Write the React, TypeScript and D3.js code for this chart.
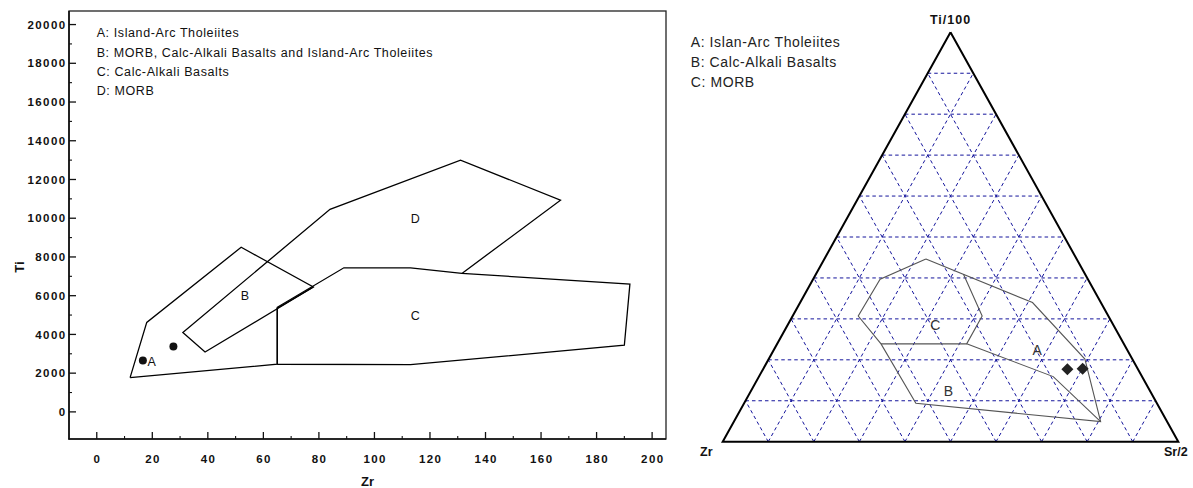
import React from "react";
import * as d3 from "d3";

// ---------- Left chart (Ti vs Zr) data ----------
const xTickValues = [0, 20, 40, 60, 80, 100, 120, 140, 160, 180, 200];
const xMinorValues = [10, 30, 50, 70, 90, 110, 130, 150, 170, 190];
const yTickValues = [0, 2000, 4000, 6000, 8000, 10000, 12000, 14000, 16000, 18000, 20000];
const yMinorValues = [1000, 3000, 5000, 7000, 9000, 11000, 13000, 15000, 17000, 19000];

const legendLeft = [
  "A: Island-Arc Tholeiites",
  "B: MORB, Calc-Alkali Basalts and Island-Arc Tholeiites",
  "C: Calc-Alkali Basalts",
  "D: MORB",
];

// [Zr, Ti]
const fieldA: [number, number][] = [
  [12, 1770], [18, 4620], [52, 8500], [78, 6450], [65, 5350], [65, 2460], [12, 1770],
];
const fieldC: [number, number][] = [
  [65, 2460], [65, 5400], [89, 7440], [113, 7440], [131.5, 7150], [192, 6600],
  [190, 3440], [113, 2440], [65, 2460],
];
const fieldBD: [number, number][] = [
  [78, 6450], [39, 3090], [31, 4100], [84, 10460], [131, 13000], [167, 10930], [131.5, 7150],
];
const labelsLeft: { t: string; x: number; y: number; anchor: string }[] = [
  { t: "A", x: 18.3, y: 2580, anchor: "start" },
  { t: "B", x: 53.4, y: 6030, anchor: "middle" },
  { t: "C", x: 114.7, y: 4960, anchor: "middle" },
  { t: "D", x: 114.7, y: 9985, anchor: "middle" },
];
const samplesLeft: [number, number][] = [
  [16.6, 2650],
  [27.6, 3370],
];

// ---------- Right chart (Ti/100 - Zr - Sr/2) data, [Ti, Zr, Sr] in % ----------
const legendRight = [
  "A: Islan-Arc Tholeiites",
  "B: Calc-Alkali Basalts",
  "C: MORB",
];
const gridSteps = [10, 20, 30, 40, 50, 60, 70, 80, 90];
const outerLine: [number, number, number][] = [
  [44.6, 33.1, 22.3], [34.0, 15.0, 51.0], [20.2, 10.4, 69.4], [4.9, 14.6, 80.5],
  [9.4, 52.9, 37.7], [23.9, 53.3, 22.8], [30.7, 54.9, 14.4], [39.7, 45.6, 14.7],
  [44.6, 33.1, 22.3],
];
const innerC: [number, number, number][] = [
  [40.9, 26.7, 32.4], [30.7, 27.7, 41.6], [23.9, 34.5, 41.6], [23.9, 53.3, 22.8],
];
const lineAB: [number, number, number][] = [
  [23.9, 34.5, 41.6], [15.9, 19.5, 64.6], [4.9, 14.6, 80.5],
];
const labelsRight: { t: string; c: [number, number, number] }[] = [
  { t: "A", c: [22.4, 19.8, 57.8] },
  { t: "B", c: [12.5, 44.2, 43.3] },
  { t: "C", c: [28.5, 39.1, 32.4] },
];
const samplesRight: [number, number, number][] = [
  [17.7, 15.5, 66.8],
  [17.8, 12.1, 70.1],
];

const FONT = "'Liberation Sans', Arial, Helvetica, sans-serif";

export default function App() {
  // left chart scales
  const x = d3.scaleLinear().domain([-10, 205]).range([69, 666]);
  const y = d3.scaleLinear().domain([-1400, 20700]).range([439, 11]);
  const lineXY = d3
    .line<[number, number]>()
    .x((d) => x(d[0]))
    .y((d) => y(d[1]));

  // ternary scales
  const tx = d3.scaleLinear().domain([0, 1]).range([722.7, 1178.3]);
  const ty = d3.scaleLinear().domain([0, 1]).range([441.7, 32.3]);
  const tern = (c: [number, number, number]): [number, number] => {
    const sum = c[0] + c[1] + c[2];
    const t = c[0] / sum;
    const s = c[2] / sum;
    return [tx(s + t / 2), ty(t)];
  };
  const lineT = d3
    .line<[number, number, number]>()
    .x((d) => tern(d)[0])
    .y((d) => tern(d)[1]);

  const triangle: [number, number, number][] = [
    [100, 0, 0], [0, 100, 0], [0, 0, 100], [100, 0, 0],
  ];

  const gridLines: [[number, number, number], [number, number, number]][] = [];
  gridSteps.forEach((f) => {
    gridLines.push([[f, 100 - f, 0], [f, 0, 100 - f]]); // const Ti
    gridLines.push([[0, 100 - f, f], [100 - f, 0, f]]); // const Sr
    gridLines.push([[0, f, 100 - f], [100 - f, f, 0]]); // const Zr
  });

  const tickStyle = {
    fontFamily: FONT,
    fontWeight: 700,
    fontSize: 11.5,
    letterSpacing: 1.4,
  } as const;

  return (
    <svg
      width={1193}
      height={488}
      style={{ position: "absolute", left: 0, top: 0, background: "#fff" }}
    >
      <rect x={0} y={0} width={1193} height={488} fill="#fff" />

      {/* ---------- Left chart ---------- */}
      <g>
        {/* frame */}
        <rect x={69} y={11} width={597} height={428} fill="none" stroke="#222" strokeWidth={1.3} />
        <line x1={69} y1={11} x2={69} y2={439.5} stroke="#111" strokeWidth={1.6} />
        <line x1={68.5} y1={439} x2={666} y2={439} stroke="#111" strokeWidth={1.6} />

        {/* x ticks */}
        {xTickValues.map((v) => (
          <g key={"xt" + v}>
            <line x1={x(v)} x2={x(v)} y1={439} y2={432} stroke="#111" strokeWidth={1.3} />
            <text x={x(v) + 0.7} y={462.5} textAnchor="middle" style={tickStyle} fill="#111">
              {v}
            </text>
          </g>
        ))}
        {xMinorValues.map((v) => (
          <line key={"xm" + v} x1={x(v)} x2={x(v)} y1={439} y2={436} stroke="#111" strokeWidth={1.1} />
        ))}
        {/* y ticks */}
        {yTickValues.map((v) => (
          <g key={"yt" + v}>
            <line x1={69} x2={76} y1={y(v)} y2={y(v)} stroke="#111" strokeWidth={1.3} />
            <text x={66.5} y={y(v) + 4.2} textAnchor="end" style={tickStyle} fill="#111">
              {v}
            </text>
          </g>
        ))}
        {yMinorValues.map((v) => (
          <line key={"ym" + v} x1={69} x2={72} y1={y(v)} y2={y(v)} stroke="#111" strokeWidth={1.1} />
        ))}

        {/* axis titles */}
        <text
          transform="translate(24,267) rotate(-90)"
          textAnchor="middle"
          style={{ fontFamily: FONT, fontWeight: 700, fontSize: 13 }}
          fill="#111"
        >
          Ti
        </text>
        <text
          x={367.5}
          y={486}
          textAnchor="middle"
          style={{ fontFamily: FONT, fontWeight: 700, fontSize: 13 }}
          fill="#111"
        >
          Zr
        </text>

        {/* legend */}
        {legendLeft.map((t, i) => (
          <text
            key={t}
            x={96.7}
            y={37.3 + i * 19.2}
            style={{ fontFamily: FONT, fontSize: 12.5, letterSpacing: 0.6 }}
            fill="#111"
          >
            {t}
          </text>
        ))}

        {/* fields */}
        {[fieldA, fieldC, fieldBD].map((f, i) => (
          <path key={"f" + i} d={lineXY(f) || ""} fill="none" stroke="#000" strokeWidth={1.3} strokeLinejoin="miter" />
        ))}
        {labelsLeft.map((l) => (
          <text
            key={l.t}
            x={x(l.x)}
            y={y(l.y) + 4.5}
            textAnchor={l.anchor as any}
            style={{ fontFamily: FONT, fontSize: 12.5 }}
            fill="#111"
          >
            {l.t}
          </text>
        ))}
        {samplesLeft.map((p, i) => (
          <circle key={"s" + i} cx={x(p[0])} cy={y(p[1])} r={4} fill="#111" />
        ))}
      </g>

      {/* ---------- Right chart (ternary) ---------- */}
      <g>
        {gridLines.map((g, i) => {
          const a = tern(g[0]);
          const b = tern(g[1]);
          return (
            <line
              key={"g" + i}
              x1={a[0]}
              y1={a[1]}
              x2={b[0]}
              y2={b[1]}
              stroke="#14149c"
              strokeWidth={1}
              strokeDasharray="3.5,3"
            />
          );
        })}
        <path d={lineT(triangle) || ""} fill="none" stroke="#000" strokeWidth={2} strokeLinejoin="miter" />

        {[outerLine, innerC, lineAB].map((f, i) => (
          <path key={"t" + i} d={lineT(f) || ""} fill="none" stroke="#555" strokeWidth={1.1} />
        ))}
        {labelsRight.map((l) => {
          const p = tern(l.c);
          return (
            <text
              key={"tl" + l.t}
              x={p[0]}
              y={p[1] + 5}
              textAnchor="middle"
              style={{ fontFamily: FONT, fontSize: 14 }}
              fill="#333"
            >
              {l.t}
            </text>
          );
        })}
        {samplesRight.map((c, i) => {
          const p = tern(c);
          const r = 6;
          return (
            <path
              key={"d" + i}
              d={`M${p[0]},${p[1] - r}L${p[0] + r},${p[1]}L${p[0]},${p[1] + r}L${p[0] - r},${p[1]}Z`}
              fill="#222"
            />
          );
        })}

        {/* vertex labels */}
        <text
          x={tern([100, 0, 0])[0]}
          y={23.5}
          textAnchor="middle"
          style={{ fontFamily: FONT, fontWeight: 700, fontSize: 12.5, letterSpacing: 1 }}
          fill="#111"
        >
          Ti/100
        </text>
        <text x={700} y={455.5} style={{ fontFamily: FONT, fontWeight: 700, fontSize: 12.5 }} fill="#111">
          Zr
        </text>
        <text x={1164} y={455.5} style={{ fontFamily: FONT, fontWeight: 700, fontSize: 12.5 }} fill="#111">
          Sr/2
        </text>

        {/* legend */}
        {legendRight.map((t, i) => (
          <text
            key={t}
            x={690.7}
            y={46.8 + i * 20.3}
            style={{ fontFamily: FONT, fontSize: 14, letterSpacing: 0.6 }}
            fill="#222"
          >
            {t}
          </text>
        ))}
      </g>
    </svg>
  );
}
